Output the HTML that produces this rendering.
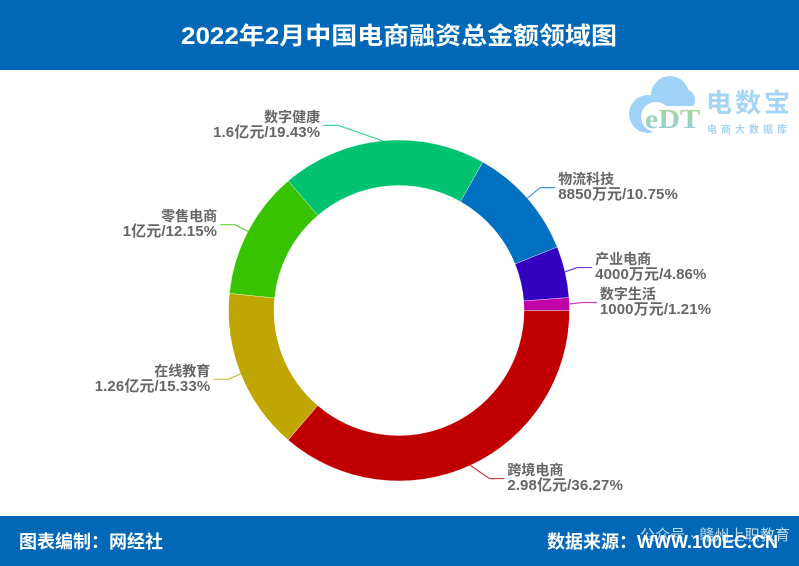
<!DOCTYPE html>
<html lang="zh-CN">
<head>
<meta charset="utf-8">
<title>2022年2月中国电商融资总金额领域图</title>
<style>
html,body{margin:0;padding:0;background:#fff}
#chart-page{position:relative;width:799px;height:566px;overflow:hidden;background:#fff;font-family:"Liberation Sans","Noto Sans CJK SC",sans-serif}
#chart-svg{position:absolute;left:0;top:0}
</style>
</head>
<body>
<div id="chart-page">
<svg id="chart-svg" width="799" height="566" viewBox="0 0 799 566" xmlns="http://www.w3.org/2000/svg">
  <defs>
    <linearGradient id="logo-e-gradient" x1="0" y1="0" x2="0" y2="1">
      <stop offset="0" stop-color="#a9d98a"/>
      <stop offset="1" stop-color="#8fd0e8"/>
    </linearGradient>
  </defs>
  <rect x="0" y="0" width="799" height="70" fill="#0068b7"/>
  <rect x="0" y="516" width="799" height="50" fill="#0068b7"/>
  <text x="399" y="44" text-anchor="middle" fill="#fff" font-size="24" font-weight="700" textLength="436" lengthAdjust="spacingAndGlyphs">2022年2月中国电商融资总金额领域图</text>
  <g>
    <g fill="#9fd2f7">
      <circle cx="670" cy="95" r="19"/>
      <circle cx="648" cy="114" r="19"/>
      <circle cx="684" cy="100" r="11"/>
    </g>
    <rect x="656" y="106" width="50" height="30" fill="#fff"/>
    <circle cx="656" cy="117" r="15" fill="#fff"/>
    <text x="645" y="128" fill="url(#logo-e-gradient)" font-size="27" font-weight="700" font-family="Liberation Serif, serif" textLength="55" lengthAdjust="spacingAndGlyphs">eDT</text>
    <text x="706" y="112" fill="#a5d5f6" font-size="26" font-weight="700" textLength="84">电数宝</text>
    <text x="707" y="133" fill="#a8d4f0" font-size="10" font-weight="700" textLength="80">电商大数据库</text>
  </g>
  <g id="donut"></g>
  <g id="leaders"></g>
  <g id="labels"></g>
  <text x="19" y="548" fill="#fff" font-size="18" font-weight="700">图表编制：网经社</text>
  <text x="547" y="548" fill="#fff" font-size="18" font-weight="700">数据来源：WWW.100EC.CN</text>
  <text x="640" y="540" fill="#fff" fill-opacity="0.75" font-size="15" textLength="150">公众号 · 赣州上职教育</text>
</svg>
</div>
<script>
var categories = ["跨境电商", "在线教育", "零售电商", "数字健康", "物流科技", "产业电商", "数字生活"];
var amounts = ["2.98亿元", "1.26亿元", "1亿元", "1.6亿元", "8850万元", "4000万元", "1000万元"];
var shares = [36.27, 15.33, 12.15, 19.43, 10.75, 4.86, 1.21];
var colors = ["#c00000", "#c0a600", "#38c300", "#00c26f", "#0070c0", "#3400bf", "#c000a8"];

var CX = 399, CY = 310.5, R_OUT = 170.5, R_IN = 125, R_KNEE = 185, TAIL = 15;
var SVG_NS = "http://www.w3.org/2000/svg";
var donutLayer = document.getElementById("donut");
var leaderLayer = document.getElementById("leaders");
var labelLayer = document.getElementById("labels");

/* manual label-layout tweaks: how far each label knee is dragged from its automatic spot */
function kneeNudge(category) {
  if (category === "跨境电商") return [13, 0];
  if (category === "在线教育") return [1, 0];
  if (category === "数字健康") return [-43, -1];
  if (category === "物流科技") return [2, -1];
  if (category === "产业电商") return [-2, -1];
  if (category === "数字生活") return [-2, -1];
  return [0, 0];
}
function total() {
  return shares.reduce(function (a, b) { return a + b; }, 0);
}
function polar(radius, angle) {
  return [CX + radius * Math.cos(angle), CY + radius * Math.sin(angle)];
}
function angleOf(cumulative) {
  return cumulative / total() * 2 * Math.PI;
}
function slicePath(a0, a1) {
  var p0 = polar(R_OUT, a0), p1 = polar(R_OUT, a1), p2 = polar(R_IN, a1), p3 = polar(R_IN, a0);
  var large = a1 - a0 > Math.PI ? 1 : 0;
  return "M" + p0 + "A" + R_OUT + " " + R_OUT + " 0 " + large + " 1 " + p1 +
         "L" + p2 + "A" + R_IN + " " + R_IN + " 0 " + large + " 0 " + p3 + "Z";
}
function makeLabelLine(x, y, anchor, content, name, size, spacing) {
  var t = document.createElementNS(SVG_NS, "text");
  t.setAttribute("x", x);
  t.setAttribute("y", y);
  t.setAttribute("text-anchor", anchor);
  t.setAttribute("fill", "#666");
  t.setAttribute("font-size", size);
  t.setAttribute("font-weight", "700");
  t.setAttribute("letter-spacing", spacing);
  t.textContent = content;
  
  
  return t;
}

var running = 0;
shares.forEach(function (share, i) {
  var a0 = angleOf(running);
  running += share;
  var a1 = angleOf(running);
  var mid = (a0 + a1) / 2;

  var slice = document.createElementNS(SVG_NS, "path");
  slice.setAttribute("d", slicePath(a0, a1));
  slice.setAttribute("fill", colors[i]);
  slice.setAttribute("stroke", "#fff");
  slice.setAttribute("stroke-width", "0.4");
  
  
  donutLayer.appendChild(slice);

  var nudge = kneeNudge(categories[i]);
  var start = polar(R_OUT, mid);
  var knee = polar(R_KNEE, mid);
  knee[0] += nudge[0];
  knee[1] += nudge[1];
  var right = Math.cos(mid) >= 0;
  var end = [knee[0] + (right ? TAIL : -TAIL), knee[1]];
  var line = document.createElementNS(SVG_NS, "polyline");
  line.setAttribute("points", start + " " + knee + " " + end);
  line.setAttribute("fill", "none");
  line.setAttribute("stroke", colors[i]);
  line.setAttribute("stroke-width", "1.2");
  line.setAttribute("stroke-opacity", "0.75");
  
  
  leaderLayer.appendChild(line);

  var tx = end[0] + (right ? 3 : -3);
  var anchor = right ? "start" : "end";
  labelLayer.appendChild(makeLabelLine(tx, end[1] - 3.5, anchor, categories[i], 'label-category-' + categories[i], "14", "0"));
  labelLayer.appendChild(makeLabelLine(tx, end[1] + 11.5, anchor, amounts[i] + "/" + share.toFixed(2) + "%", 'label-value-' + categories[i], "15", "0.1"));
});
</script>
</body>
</html>
